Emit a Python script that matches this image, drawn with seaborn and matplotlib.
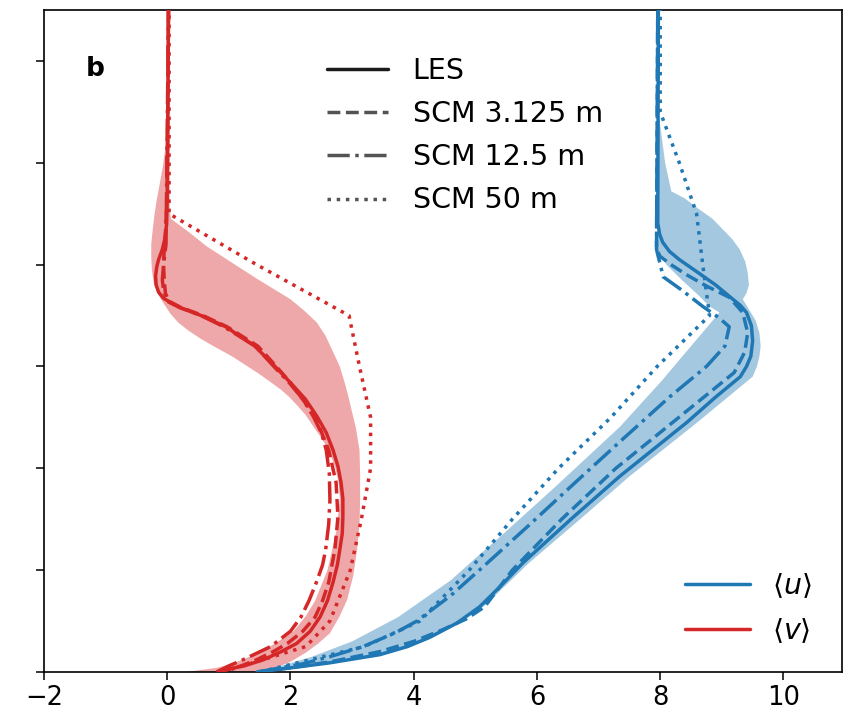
import numpy as np
import matplotlib
matplotlib.use("Agg")
import matplotlib.pyplot as plt
from matplotlib.lines import Line2D
import seaborn as sns

# ---------------- data ----------------
# heights (m) and wind components (m/s)
# ---- <u> (blue) ----
u_les_z = [0, 4, 9, 17, 25, 34, 48, 64, 85, 107, 150, 192, 245, 270, 290, 300, 310, 325, 340, 353, 360, 369, 380, 389, 397, 405, 413, 422, 430, 441, 650]
u_les   = [1.46, 2.0, 2.64, 3.45, 3.9, 4.26, 4.7, 5.07, 5.42, 5.77, 6.55, 7.34, 8.43, 8.9, 9.3, 9.4, 9.47, 9.5, 9.48, 9.4, 9.3, 9.12, 8.9, 8.69, 8.5, 8.31, 8.15, 8.04, 7.99, 7.96, 7.97]

u_s3_z = [0, 5, 10, 20, 30, 41, 52, 64, 80, 100, 150, 200, 245, 294, 314, 333, 353, 368, 379, 390, 399, 408, 415, 650]
u_s3   = [1.5, 2.1, 2.65, 3.45, 4.0, 4.45, 4.85, 5.15, 5.35, 5.6, 6.4, 7.28, 8.2, 9.2, 9.37, 9.42, 9.34, 9.12, 8.75, 8.43, 8.2, 8.0, 7.94, 7.96]

u_s12_z = [0, 8, 15, 25, 39, 50, 75, 103, 143, 186, 228, 270, 300, 320, 339, 348, 359, 375, 388, 405, 415, 650]
u_s12   = [1.46, 2.2, 2.64, 3.18, 3.72, 4.05, 4.6, 5.12, 5.85, 6.62, 7.38, 8.15, 8.75, 9.05, 9.12, 8.95, 8.69, 8.35, 8.05, 7.98, 7.94, 7.96]

u_s50_z = [0, 25, 50, 100, 150, 200, 250, 300, 350, 400, 450, 500, 550, 650]
u_s50   = [1.5, 3.2, 4.1, 4.9, 5.6, 6.35, 7.2, 7.95, 8.8, 8.69, 8.59, 8.31, 8.0, 8.0]

u_band_lo_z = [0, 5, 15, 30, 54, 90, 117, 130, 182, 241, 287, 300, 320, 340, 353, 359, 370, 385, 400, 415, 440, 474, 546, 650]
u_band_lo   = [1.46, 1.8, 2.35, 3.0, 3.75, 4.6, 5.1, 5.35, 6.3, 7.35, 8.04, 8.22, 8.5, 8.78, 8.96, 8.8, 8.62, 8.35, 8.1, 7.96, 7.96, 7.96, 7.96, 7.96]
u_band_hi_z = [0, 10, 20, 35, 65, 107, 150, 192, 245, 270, 290, 300, 310, 320, 333, 345, 355, 366, 372, 380, 392, 403, 415, 425, 435, 445, 454, 465, 472, 500, 546, 650]
u_band_hi   = [1.46, 2.75, 3.6, 4.3, 5.15, 5.87, 6.7, 7.5, 8.6, 9.1, 9.5, 9.57, 9.61, 9.63, 9.61, 9.55, 9.45, 9.34, 9.4, 9.44, 9.42, 9.38, 9.29, 9.17, 9.01, 8.85, 8.64, 8.4, 8.18, 8.08, 7.98, 7.97]

# ---- <v> (red) ----
v_les_z = [0, 2, 6, 12, 20, 28, 40, 54, 70, 88, 105, 120, 136, 152, 170, 186, 202, 218, 235, 251, 268, 284, 300, 320, 339, 350, 358, 363, 367, 373, 380, 389, 398, 405, 415, 425, 440, 474, 650]
v_les   = [0.85, 0.91, 1.25, 1.56, 1.85, 2.1, 2.32, 2.48, 2.6, 2.69, 2.76, 2.8, 2.84, 2.85, 2.85, 2.82, 2.77, 2.69, 2.58, 2.43, 2.24, 2.0, 1.75, 1.42, 0.95, 0.55, 0.2, 0.05, -0.06, -0.14, -0.18, -0.19, -0.17, -0.14, -0.08, -0.04, -0.01, 0.0, 0.02]

v_s3_z = [0, 6, 12, 20, 28, 40, 54, 70, 88, 120, 152, 186, 218, 251, 284, 300, 320, 339, 350, 358, 364, 372, 385, 400, 415, 430, 474, 650]
v_s3   = [0.85, 1.2, 1.45, 1.72, 1.95, 2.2, 2.4, 2.52, 2.62, 2.72, 2.77, 2.74, 2.62, 2.4, 2.0, 1.77, 1.47, 0.97, 0.58, 0.22, 0.03, -0.03, -0.05, -0.06, -0.05, -0.03, 0.0, 0.02]

v_s12_z = [0, 6, 12, 25, 40, 54, 70, 88, 105, 120, 145, 169, 195, 218, 235, 251, 268, 284, 300, 320, 339, 350, 358, 364, 375, 385, 400, 420, 650]
v_s12   = [0.8, 1.0, 1.23, 1.68, 2.0, 2.17, 2.3, 2.42, 2.52, 2.57, 2.62, 2.64, 2.63, 2.58, 2.5, 2.37, 2.2, 1.98, 1.73, 1.43, 0.92, 0.55, 0.2, 0.0, -0.06, -0.08, -0.06, -0.02, 0.02]

v_s50_z = [0, 25, 50, 100, 150, 200, 250, 300, 350, 400, 450, 500, 550, 650]
v_s50   = [0.9, 2.25, 2.64, 2.97, 3.15, 3.3, 3.3, 3.12, 2.95, 1.45, 0.03, 0.03, 0.03, 0.03]

v_band_lo_z = [0, 4, 8, 19, 30, 40, 55, 70, 100, 140, 170, 186, 200, 218, 230, 241, 252, 261, 270, 277, 285, 294, 310, 320, 327, 335, 343, 352, 363, 372, 382, 395, 408, 420, 432, 448, 464, 480, 497, 515, 535, 650]
v_band_lo   = [0.3, 0.8, 1.05, 1.5, 1.8, 2.05, 2.25, 2.4, 2.6, 2.75, 2.8, 2.78, 2.73, 2.62, 2.5, 2.37, 2.25, 2.12, 1.98, 1.85, 1.67, 1.46, 1.05, 0.75, 0.55, 0.35, 0.18, 0.05, -0.07, -0.16, -0.22, -0.25, -0.26, -0.26, -0.24, -0.21, -0.17, -0.12, -0.07, -0.03, -0.01, -0.01]
v_band_hi_z = [0, 5, 10, 19, 28, 38, 55, 71, 95, 120, 145, 169, 195, 218, 240, 255, 268, 284, 300, 317, 330, 343, 355, 366, 386, 400, 418, 432, 445, 455, 550, 650]
v_band_hi   = [1.5, 1.8, 2.0, 2.25, 2.45, 2.64, 2.8, 2.92, 3.02, 3.08, 3.12, 3.13, 3.13, 3.12, 3.06, 3.0, 2.95, 2.88, 2.8, 2.67, 2.57, 2.43, 2.22, 2.0, 1.46, 1.1, 0.64, 0.35, 0.06, 0.04, 0.04, 0.04]

x_ticks = [-2, 0, 2, 4, 6, 8, 10]
y_ticks = [0, 100, 200, 300, 400, 500, 600]
panel_label = "b"
style_labels = ["LES", "SCM 3.125 m", "SCM 12.5 m", "SCM 50 m"]
var_labels = [r"$\langle u\rangle$", r"$\langle v\rangle$"]

# ---------------- plotting ----------------
sns.set_theme(style="ticks")
plt.rcParams["font.family"] = ["DejaVu Sans"]
plt.rcParams["mathtext.fontset"] = "dejavusans"
for k in ["text.color", "axes.labelcolor", "xtick.color", "ytick.color", "axes.edgecolor"]:
    plt.rcParams[k] = "black"

BLUE = "#1f77b4"
RED = "#d62728"
LW = 2.5

fig = plt.figure(figsize=(8.53, 7.21), dpi=100)
ax = fig.add_axes([0.0516, 0.068, 0.9355, 0.918])

def band(zl, lo, zh, hi, color):
    xs = np.concatenate([np.asarray(lo), np.asarray(hi)[::-1]])
    ys = np.concatenate([np.asarray(zl), np.asarray(zh)[::-1]])
    ax.fill(xs, ys, color=color, alpha=0.4, lw=0, zorder=1)

band(u_band_lo_z, u_band_lo, u_band_hi_z, u_band_hi, BLUE)
band(v_band_lo_z, v_band_lo, v_band_hi_z, v_band_hi, RED)

styles = ["-", "--", "-.", ":"]
u_sets = [(u_les, u_les_z), (u_s3, u_s3_z), (u_s12, u_s12_z), (u_s50, u_s50_z)]
v_sets = [(v_les, v_les_z), (v_s3, v_s3_z), (v_s12, v_s12_z), (v_s50, v_s50_z)]

for (xv, zv), ls in zip(u_sets, styles):
    sns.lineplot(x=xv, y=zv, sort=False, estimator=None, ax=ax, color=BLUE,
                 linestyle=ls, linewidth=LW, zorder=3)
for (xv, zv), ls in zip(v_sets, styles):
    sns.lineplot(x=xv, y=zv, sort=False, estimator=None, ax=ax, color=RED,
                 linestyle=ls, linewidth=LW, zorder=3)

ax.set_xlim(-2, 10.95)
ax.set_ylim(0, 650)
ax.set_xticks(x_ticks)
ax.set_xticklabels([("\u2212" + str(-t)) if t < 0 else str(t) for t in x_ticks])
ax.set_yticks(y_ticks)
ax.set_yticklabels([])
ax.set_xlabel("")
ax.set_ylabel("")
ax.tick_params(axis="both", direction="out", length=6, width=1.1, labelsize=18.5, colors="black")
for s in ax.spines.values():
    s.set_visible(True)
    s.set_color("black")
    s.set_linewidth(1.2)

ax.text(0.0645, 0.911, panel_label, transform=ax.transAxes, fontsize=19,
        fontweight="bold", ha="center", va="center")

# legend for line styles
sty_handles = [Line2D([], [], color="k", ls="-", lw=LW)] + \
    [Line2D([], [], color="k", alpha=0.75, ls=ls, lw=LW) for ls in styles[1:]]
leg1 = ax.legend(sty_handles, style_labels, loc="upper left",
                 bbox_to_anchor=(0.340, 0.946), borderaxespad=0, frameon=False, fontsize=20.5,
                 handlelength=2.14, labelspacing=0.53, handletextpad=0.88)
ax.add_artist(leg1)

var_handles = [Line2D([], [], color=BLUE, lw=LW), Line2D([], [], color=RED, lw=LW)]
ax.legend(var_handles, var_labels, loc="lower right", frameon=False, fontsize=20.5,
          handlelength=2.28, labelspacing=0.55, handletextpad=0.77,
          bbox_to_anchor=(0.976, 0.024), borderaxespad=0)

fig.savefig("out.png", dpi=100)
